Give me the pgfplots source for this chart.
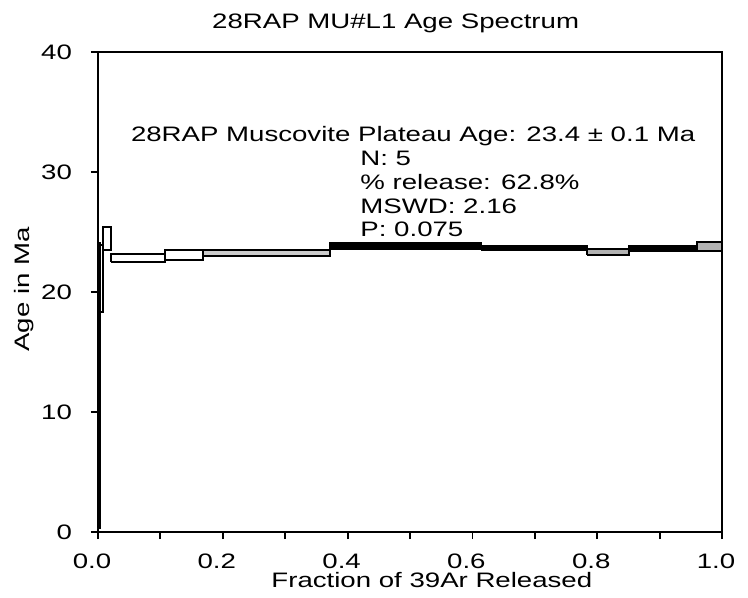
\documentclass[border=0pt]{standalone}
\usepackage{fontspec}
\setmainfont{Liberation Sans}[FakeStretch=1.32]
\usepackage{pgfplots}
\pgfplotsset{compat=1.18}

\newcommand{\fs}{\fontsize{10.5}{12.6}\selectfont}

\begin{document}
\begin{tikzpicture}
\begin{axis}[
    scale only axis,
    width=312bp, height=240bp,
    xmin=0, xmax=1, ymin=0, ymax=40,
    xtick={0,0.2,...,1.0},
    minor xtick={0.1,0.3,0.5,0.7,0.9},
    ytick={0,10,20,30,40},
    tick align=outside,
    xtick pos=bottom, ytick pos=left,
    major tick length=3.5bp, minor tick length=3.5bp,
    every tick/.style={black, line width=0.9bp},
    axis line style={line width=1bp},
    /pgf/number format/assume math mode=true,
    xticklabel={\pgfmathprintnumber[fixed,fixed zerofill,precision=1]{\tick}},
    tick label style={font=\fs},
    yticklabel style={xshift=-6bp},
    xticklabel style={anchor=base, yshift=-14.5bp, xshift=-3bp},
    xlabel={Fraction of 39Ar Released},
    ylabel={Age in Ma},
    label style={font=\fs},
    xlabel style={at={(axis description cs:0.535,0)}, anchor=base, yshift=-27.5bp},
    ylabel style={at={(axis description cs:0,0.505)}, anchor=center, inner sep=0pt, yshift=37bp},
    title={28RAP MU\#L1 Age Spectrum},
    title style={font=\fs, at={(axis description cs:0.477,1)}, anchor=base, yshift=6bp},
    clip=false,
]
% step boxes: (x0,lo) (x1,lo) (x1,hi) (x0,hi)
\addplot[draw=black, line width=1bp, fill=white] coordinates {(0,0.3) (0.004,0.3) (0.004,24.1) (0,24.1) (0,0.3)};
\addplot[draw=black, line width=1bp, fill=white] coordinates {(0.004,18.3) (0.008,18.3) (0.008,23.9) (0.004,23.9) (0.004,18.3)};
\addplot[draw=black, line width=1bp, fill=white] coordinates {(0.008,23.5) (0.021,23.5) (0.021,25.4) (0.008,25.4) (0.008,23.5)};
\addplot[draw=black, line width=1bp, fill=white] coordinates {(0.021,22.5) (0.108,22.5) (0.108,23.2) (0.021,23.2) (0.021,22.5)};
\addplot[draw=black, line width=1bp, fill=white] coordinates {(0.108,22.7) (0.168,22.7) (0.168,23.5) (0.108,23.5) (0.108,22.7)};
\addplot[draw=black, line width=1bp, fill=gray!40] coordinates {(0.168,23.0) (0.371,23.0) (0.371,23.5) (0.168,23.5) (0.168,23.0)};
\addplot[draw=black, line width=1bp, fill=black] coordinates {(0.371,23.6) (0.614,23.6) (0.614,24.05) (0.371,24.05) (0.371,23.6)};
\addplot[draw=black, line width=1bp, fill=black] coordinates {(0.614,23.5) (0.784,23.5) (0.784,23.85) (0.614,23.85) (0.614,23.5)};
\addplot[draw=black, line width=1bp, fill=gray!60] coordinates {(0.784,23.1) (0.851,23.1) (0.851,23.6) (0.784,23.6) (0.784,23.1)};
\addplot[draw=black, line width=1bp, fill=black] coordinates {(0.851,23.4) (0.960,23.4) (0.960,23.8) (0.851,23.8) (0.851,23.4)};
\addplot[draw=black, line width=1bp, fill=gray!60] coordinates {(0.960,23.45) (1.0,23.45) (1.0,24.2) (0.960,24.2) (0.960,23.45)};

\node[font=\fs, anchor=base, inner sep=0pt] at (axis cs:0.505,32.5) {28RAP Muscovite Plateau Age: 23.4 ± 0.1 Ma};
\node[font=\fs, anchor=base west, inner sep=0pt] at (axis cs:0.42,30.5) {N: 5};
\node[font=\fs, anchor=base west, inner sep=0pt] at (axis cs:0.42,28.5) {\% release: 62.8\%};
\node[font=\fs, anchor=base west, inner sep=0pt] at (axis cs:0.42,26.55) {MSWD: 2.16};
\node[font=\fs, anchor=base west, inner sep=0pt] at (axis cs:0.42,24.6) {P: 0.075};

\coordinate (ll) at (rel axis cs:0,0);
\coordinate (ur) at (rel axis cs:1,1);
\end{axis}
\pgfresetboundingbox
\path[use as bounding box] ([shift={(-49bp,-33bp)}]ll) rectangle ([shift={(13bp,26bp)}]ur);
\end{tikzpicture}
\end{document}
